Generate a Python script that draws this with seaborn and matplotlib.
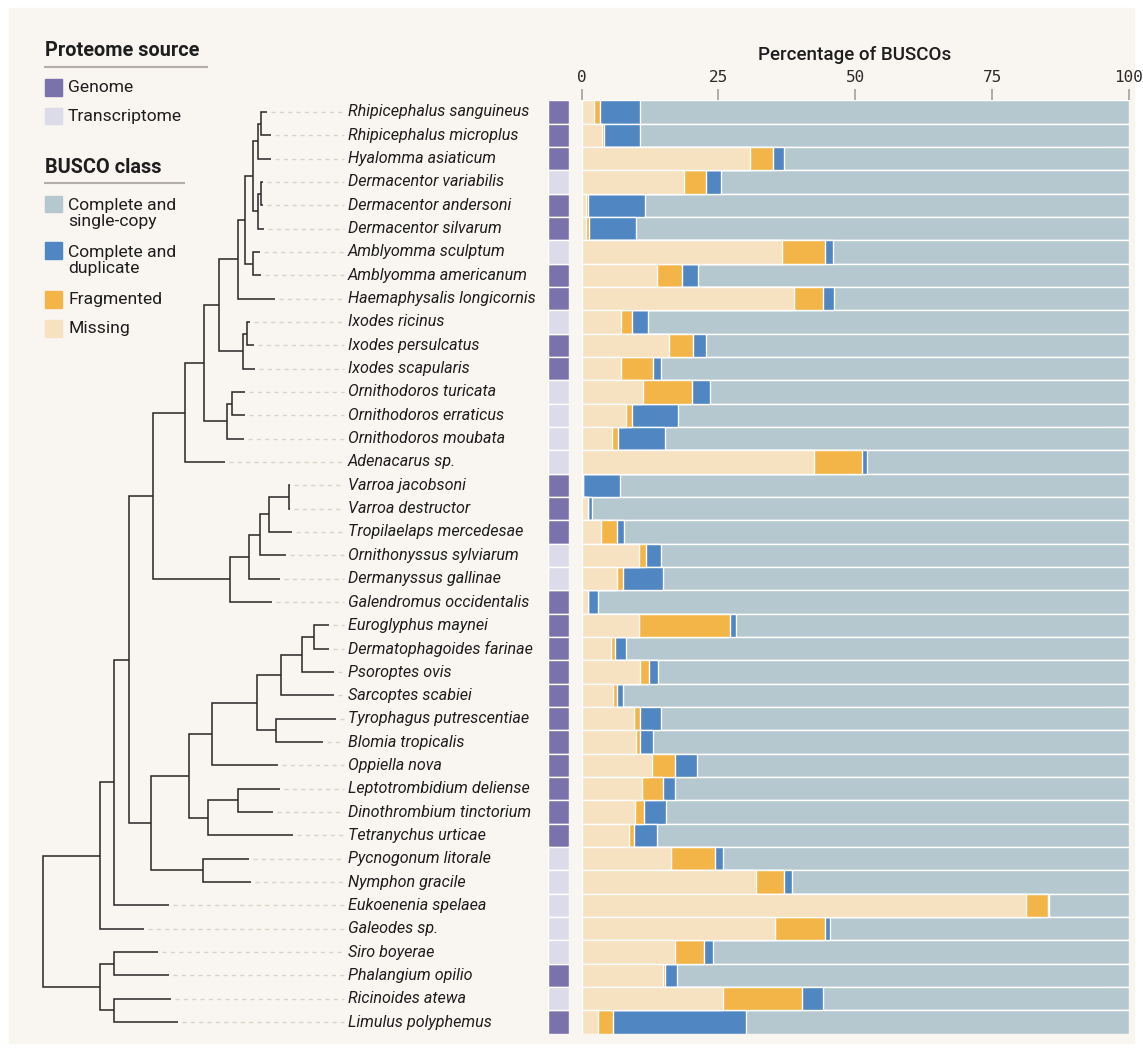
import numpy as np
import pandas as pd
import matplotlib
matplotlib.use('Agg')
import matplotlib.pyplot as plt
import seaborn as sns
from matplotlib.patches import Rectangle
from matplotlib.lines import Line2D

#species in tree order, top to bottom
species = ['Rhipicephalus sanguineus', 'Rhipicephalus microplus', 'Hyalomma asiaticum',
           'Dermacentor variabilis', 'Dermacentor andersoni', 'Dermacentor silvarum',
           'Amblyomma sculptum', 'Amblyomma americanum', 'Haemaphysalis longicornis',
           'Ixodes ricinus', 'Ixodes persulcatus', 'Ixodes scapularis',
           'Ornithodoros turicata', 'Ornithodoros erraticus', 'Ornithodoros moubata',
           'Adenacarus sp.', 'Varroa jacobsoni', 'Varroa destructor',
           'Tropilaelaps mercedesae', 'Ornithonyssus sylviarum', 'Dermanyssus gallinae',
           'Galendromus occidentalis', 'Euroglyphus maynei', 'Dermatophagoides farinae',
           'Psoroptes ovis', 'Sarcoptes scabiei', 'Tyrophagus putrescentiae',
           'Blomia tropicalis', 'Oppiella nova', 'Leptotrombidium deliense',
           'Dinothrombium tinctorium', 'Tetranychus urticae', 'Pycnogonum litorale',
           'Nymphon gracile', 'Eukoenenia spelaea', 'Galeodes sp.', 'Siro boyerae',
           'Phalangium opilio', 'Ricinoides atewa', 'Limulus polyphemus']

source = ['Genome', 'Genome', 'Genome', 'Transcriptome', 'Genome', 'Genome',
          'Transcriptome', 'Genome', 'Genome', 'Transcriptome', 'Genome', 'Genome',
          'Transcriptome', 'Transcriptome', 'Transcriptome', 'Transcriptome',
          'Genome', 'Genome', 'Genome', 'Transcriptome', 'Transcriptome', 'Genome',
          'Genome', 'Genome', 'Genome', 'Genome', 'Genome', 'Genome', 'Genome',
          'Genome', 'Genome', 'Genome', 'Transcriptome', 'Transcriptome',
          'Transcriptome', 'Transcriptome', 'Transcriptome', 'Genome',
          'Transcriptome', 'Genome']

#BUSCO percentages
missing = [2.3, 3.7, 30.8, 18.7, 0.9, 0.9, 36.6, 13.7, 38.8, 7.3, 15.9, 7.2, 11.2, 8.1,
           5.6, 42.5, 0.3, 1.1, 3.6, 10.5, 6.5, 1.1, 10.5, 5.4, 10.7, 5.7, 9.6, 10.0,
           12.8, 11.1, 9.7, 8.6, 16.3, 31.9, 81.2, 35.3, 17.0, 14.8, 25.9, 3.1]
fragmented = [1.0, 0.4, 4.1, 4.0, 0.2, 0.5, 7.9, 4.7, 5.4, 1.9, 4.5, 5.9, 8.9, 1.1,
              1.0, 8.8, 0.0, 0.1, 2.8, 1.3, 1.0, 0.0, 16.7, 0.8, 1.7, 0.7, 1.0, 0.7,
              4.3, 3.7, 1.7, 0.9, 8.0, 5.1, 4.0, 9.1, 5.3, 0.5, 14.4, 2.6]
duplicated = [7.4, 6.6, 2.0, 2.8, 10.5, 8.5, 1.4, 2.9, 2.0, 2.9, 2.3, 1.5, 3.4, 8.5,
              8.7, 0.8, 6.8, 0.8, 1.4, 2.7, 7.3, 1.9, 1.1, 2.0, 1.5, 1.2, 4.0, 2.3,
              4.0, 2.2, 4.0, 4.3, 1.5, 1.4, 0.1, 0.9, 1.7, 2.1, 3.8, 24.3]
single = [89.3, 89.3, 63.1, 74.5, 88.4, 90.1, 54.1, 78.7, 53.8, 87.9, 77.3, 85.4, 76.5,
          82.3, 84.7, 47.9, 92.9, 98.0, 92.2, 85.5, 85.2, 97.0, 71.7, 91.8, 86.1, 92.4,
          85.4, 87.0, 78.9, 83.0, 84.6, 86.2, 74.2, 61.6, 14.7, 54.7, 76.0, 82.6,
          55.9, 70.0]

#tree: tip depth of each species and internal nodes (children, depth)
tip_x = [266.7, 270.7, 270.7, 263.3, 262.7, 263.7, 260.0, 260.7, 274.5, 250.0, 254.3,
         255.0, 245.0, 245.3, 244.0, 225.0, 289.5, 289.5, 291.7, 286.0, 280.0, 271.7,
         329.3, 328.7, 333.7, 334.3, 336.3, 323.3, 277.7, 280.0, 273.3, 292.7, 248.7,
         251.3, 169.3, 144.3, 157.7, 169.3, 171.0, 178.3]
node_name = ['rhip', 'rh', 'derm1', 'derm', 'rhd', 'amb', 'metas', 'ixod1', 'ixr',
             'ixodes', 'ixodidae', 'orn1', 'orn', 'ixodida', 'para1', 'var', 'var2',
             'mes3', 'mes2', 'meso', 'parasit', 'euro', 'pso', 'psor', 'tyro', 'astig',
             'sarc', 'trom1', 'trom', 'acari', 'pycno', 'acpy', 'a1', 'a2', 'a3',
             'opil', 'ric', 'b', 'root']
node_a = [0, 'rhip', 3, 'derm1', 'rh', 6, 'rhd', 'metas', 9, 'ixr', 'ixod1', 12, 'orn1',
          'ixodidae', 'ixodida', 16, 'var', 'var2', 'mes3', 'mes2', 'para1', 22, 'euro',
          'pso', 26, 'psor', 'astig', 29, 'trom1', 'sarc', 32, 'acari', 'parasit', 'a1',
          'a2', 36, 38, 'opil', 'a3']
node_b = [1, 2, 4, 5, 'derm', 7, 'amb', 8, 10, 11, 'ixodes', 13, 14, 'orn', 15, 17, 18,
          19, 20, 21, 'meso', 23, 24, 25, 27, 'tyro', 28, 30, 31, 'trom', 33, 'pycno',
          'acpy', 34, 35, 37, 39, 'ric', 'b']
node_x = [260.7, 257.7, 261.0, 258.0, 253.3, 253.3, 245.0, 237.7, 246.7, 243.3, 219.3,
          232.0, 227.3, 204.3, 185.3, 289.3, 269.3, 260.3, 249.3, 230.3, 153.3, 314.3,
          302.3, 281.3, 276.3, 257.0, 212.3, 237.7, 208.0, 188.7, 203.3, 151.3, 129.3,
          113.7, 99.7, 113.7, 114.3, 99.7, 43.3]

#colours
bg = '#f9f5f1'
src_pal = {'Genome': '#7a72aa', 'Transcriptome': '#dcdbea'}
c_single = '#b5c8d0'
c_dup = '#5087c3'
c_frag = '#f4b548'
c_miss = '#f6e1c0'
ink = '#1e1e1e'

W, H = 1143, 1051
n = len(species)
row_top, row_bot = 100.3, 1033.7

def frect(x0, x1):
    return [x0 / W, 1 - row_bot / H, (x1 - x0) / W, (row_bot - row_top) / H]

fig = plt.figure(figsize=(W / 100, H / 100), dpi=100)
fig.patch.set_facecolor('white')
fig.add_artist(Rectangle((9 / W, 1 - 1043 / H), (1134 - 9) / W, (1043 - 8) / H,
                         transform=fig.transFigure, color=bg, zorder=-10))

df = pd.DataFrame({'species': species, 'source': source, 'missing': missing,
                   'fragmented': fragmented, 'duplicated': duplicated, 'single': single})
df['m_end'] = df['missing']
df['f_end'] = df['m_end'] + df['fragmented']
df['d_end'] = df['f_end'] + df['duplicated']
df['s_end'] = df['d_end'] + df['single']

#stacked bars
ax = fig.add_axes(frect(581.5, 1129))
for col, c in [('s_end', c_single), ('d_end', c_dup), ('f_end', c_frag), ('m_end', c_miss)]:
    sns.barplot(data=df, x=col, y='species', orient='h', color=c, saturation=1,
                width=1.0, errorbar=None, edgecolor='white', linewidth=1.0, ax=ax)
ax.set_xlim(0, 100)
ax.set_ylim(n - 0.5, -0.5)
ax.set_facecolor('none')
for s in ax.spines.values():
    s.set_visible(False)
ax.set_ylabel('')
ax.set_xlabel('')
ax.set_yticks([])
ax.xaxis.tick_top()
ax.set_xticks([0, 25, 50, 75, 100])
ax.set_xticklabels(['0', '25', '50', '75', '100'], fontfamily='DejaVu Sans Mono',
                   fontsize=11.5, color='#2a2a2a')
ax.tick_params(axis='x', length=8, width=1.2, color='#a3a09c', pad=3)
fig.text(855 / W, 1 - 55 / H, 'Percentage of BUSCOs', ha='center', va='center',
         fontsize=13.5, fontfamily='Roboto', fontweight='medium', color=ink)

#proteome source column
ax_s = fig.add_axes(frect(548, 569))
sns.barplot(data=df, x=[1] * n, y='species', hue='source', palette=src_pal, dodge=False,
            orient='h', saturation=1, width=1.0, errorbar=None, edgecolor='white',
            linewidth=1.0, legend=False, ax=ax_s)
ax_s.set_xlim(0, 1)
ax_s.set_ylim(n - 0.5, -0.5)
ax_s.axis('off')

#tree and labels
ax_t = fig.add_axes(frect(30, 545))
ax_t.set_xlim(30, 545)
ax_t.set_ylim(n - 0.5, -0.5)
ax_t.axis('off')
xpos = {i: tip_x[i] for i in range(n)}
ypos = {i: i for i in range(n)}
for i in range(n):
    ax_t.plot([tip_x[i] + 4, 344], [i, i], color='#d9d2c7', lw=1.0, dashes=(3, 3))
    ax_t.text(348, i, species[i], ha='left', va='center', fontsize=11.6,
              fontfamily='Roboto', style='italic', color=ink)
for name, a, b, x in zip(node_name, node_a, node_b, node_x):
    ya, yb = ypos[a], ypos[b]
    ax_t.plot([xpos[a], x, x, xpos[b]], [ya, ya, yb, yb], color='#262626', lw=1.1,
              solid_joinstyle='miter', solid_capstyle='butt')
    ypos[name] = (ya + yb) / 2
    xpos[name] = x

#legend
def fx(px):
    return px / W

def fy(py):
    return 1 - py / H

def heading(text, y, x1):
    fig.text(fx(45), fy(y), text, ha='left', va='center', fontsize=14.3,
             fontfamily='Roboto', fontweight='bold', color=ink)
    fig.add_artist(Line2D([fx(45), fx(x1)], [fy(y + 15.5), fy(y + 15.5)],
                          color='#b3aea9', lw=1.5))

def entry(text, y_sq, color, y_txt):
    fig.add_artist(Rectangle((fx(45), fy(y_sq + 16.7)), 16.7 / W, 16.7 / H,
                             transform=fig.transFigure, color=color))
    fig.text(fx(68), fy(y_txt), text, ha='left', va='center', fontsize=12.6,
             fontfamily='Roboto', color=ink, linespacing=1.08)

heading('Proteome source', 51, 207)
entry('Genome', 79, src_pal['Genome'], 87.3)
entry('Transcriptome', 107.7, src_pal['Transcriptome'], 116.5)
heading('BUSCO class', 167, 184)
entry('Complete and\nsingle-copy', 195.7, c_single, 213.3)
entry('Complete and\nduplicate', 242.5, c_dup, 260.5)
entry('Fragmented', 291, c_frag, 299.5)
entry('Missing', 320, c_miss, 328.5)

fig.savefig('out.png', dpi=100, facecolor=fig.get_facecolor())
